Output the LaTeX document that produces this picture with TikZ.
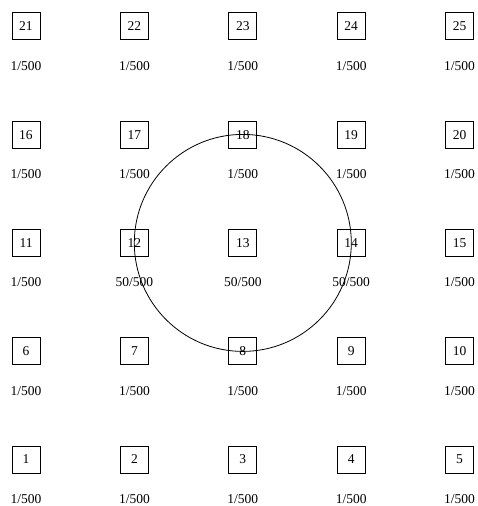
\documentclass[tikz,border=0pt]{standalone}
\usepackage{fontspec}
\setmainfont{Liberation Serif}
\usetikzlibrary{positioning,calc}

\tikzset{
  cell/.style={draw, line width=0.8pt, minimum width=28pt, minimum height=27pt, inner sep=0pt, font=\fontsize{13.5}{15}\selectfont},
  prob/.style={inner sep=0pt, anchor=base, font=\fontsize{13.5}{15}\selectfont},
}

\begin{document}
\begin{tikzpicture}[x=1pt,y=-1pt]
\useasboundingbox (0,0) rectangle (477,506);

% grid of cells, numbered from bottom left
\foreach \r in {0,...,4} {
  \foreach \c in {0,...,4} {
    \pgfmathtruncatemacro\i{\r*5+\c+1}
    \node[cell] (n\i) at ({26+108.4*\c}, {459.5-108.3*\r}) {\i};
  }
}

% probabilities under each cell
\foreach \i in {1,...,25} {
  \ifnum\i>11 \ifnum\i<15
    \def\p{50/500}
  \else
    \def\p{1/500}
  \fi \else
    \def\p{1/500}
  \fi
  \node[prob] (l\i) at ($(n\i)+(0,44)$) {\p};
}

% neighbourhood round the centre cell
\node[draw, circle, line width=0.8pt, minimum size=217pt, inner sep=0pt] (ring) at (n13) {};
\end{tikzpicture}
\end{document}
